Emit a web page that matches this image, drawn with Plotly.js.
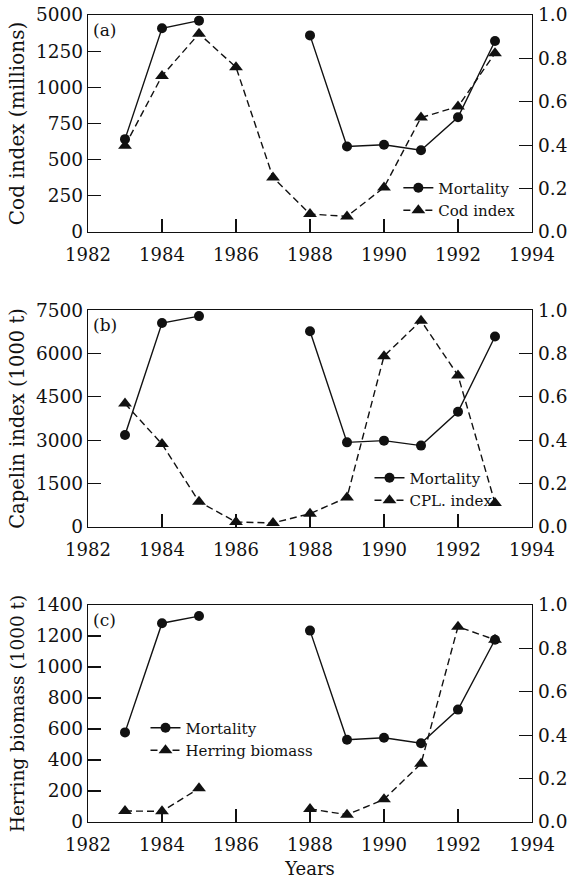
<!DOCTYPE html>
<html>
<head>
<meta charset="utf-8">
<script src="https://cdn.plot.ly/plotly-3.0.1.min.js"></script>
<style>html,body{margin:0;padding:0;background:#fff;}#chart{width:569px;height:883px;}</style>
</head>
<body>
<div id="chart"></div>
<script>
// ---- data ----
const years = [1983,1984,1985,1986,1987,1988,1989,1990,1991,1992,1993];

// Panel (a)
const mortalityA = [0.428,0.939,0.974,null,null,0.906,0.394,0.402,0.377,0.529,0.880];
// cod index drawn on a broken axis (top tick labelled 5000 sits at the 1500 position)
const codIndex = [596,1079,1371,1139,377,124,108,308,791,867,1235];
const codTickVals = [0,250,500,750,1000,1250,1500];
const codTickText = ['0','250','500','750','1000','1250','5000'];

// Panel (b)
const mortalityB = [0.424,0.940,0.972,null,null,0.902,0.390,0.398,0.375,0.531,0.878];
const capelinIndex = [4266,2867,872,172,138,459,1021,5906,7133,5241,826];
const capelinTickVals = [0,1500,3000,4500,6000,7500];

// Panel (c)
const mortalityC = [0.413,0.916,0.949,null,null,0.882,0.379,0.388,0.363,0.518,0.840];
const herringBiomass = [71,69,217,null,null,84,47,146,376,1260,1176];
const herringTickVals = [0,200,400,600,800,1000,1200,1400];

const xTickVals = [1982,1984,1986,1988,1990,1992,1994];
const rightTickVals = [0,0.2,0.4,0.6,0.8,1.0];

// ---- styling ----
const FONT = 'DejaVu Serif, Liberation Serif, serif';
const INK = '#111';

function circTrace(y, xa, ya, leg) {
  return {x: years, y: y, xaxis: xa, yaxis: ya, name: 'Mortality', legend: leg,
    mode: 'lines+markers', connectgaps: false, cliponaxis: false,
    line: {color: INK, width: 1.4},
    marker: {symbol: 'circle', size: 10, color: INK}};
}
function triTrace(y, xa, ya, leg, name) {
  return {x: years, y: y, xaxis: xa, yaxis: ya, name: name, legend: leg,
    mode: 'lines+markers', connectgaps: false, cliponaxis: false,
    line: {color: INK, width: 1.4, dash: '7px,4px'},
    marker: {symbol: 'triangle-up', size: 12, color: INK}};
}

const data = [
  circTrace(mortalityA, 'x', 'y2', 'legend'),
  triTrace(codIndex, 'x', 'y', 'legend', 'Cod index'),
  circTrace(mortalityB, 'x2', 'y4', 'legend2'),
  triTrace(capelinIndex, 'x2', 'y3', 'legend2', 'CPL. index'),
  circTrace(mortalityC, 'x3', 'y6', 'legend3'),
  triTrace(herringBiomass, 'x3', 'y5', 'legend3', 'Herring biomass')
];

function xAx(anchor, title) {
  const a = {anchor: anchor, domain: [0,1], range: [1982,1994], tickvals: xTickVals,
    ticks: 'inside', ticklen: 13, tickwidth: 1.2, tickcolor: INK,
    showline: true, linecolor: INK, linewidth: 1.3, mirror: true,
    showgrid: false, zeroline: false, ticklabelstandoff: 6,
    tickfont: {family: FONT, size: 18, color: INK}};
  if (title) a.title = {text: title, font: {family: FONT, size: 18, color: INK}, standoff: 8};
  return a;
}
function yLeft(anchor, domain, range, tv, tt, title, tsize) {
  const a = {anchor: anchor, domain: domain, range: range, tickvals: tv,
    ticks: 'inside', ticklen: 13, tickwidth: 1.2, tickcolor: INK,
    showline: true, linecolor: INK, linewidth: 1.3, mirror: true,
    showgrid: false, zeroline: false,
    tickfont: {family: FONT, size: 18.5, color: INK},
    title: {text: title, font: {family: FONT, size: tsize, color: INK}, standoff: 6}};
  if (tt) a.ticktext = tt;
  return a;
}
function yRight(anchor, overlay, domain) {
  return {anchor: anchor, overlaying: overlay, side: 'right', domain: domain, range: [0,1], tickvals: rightTickVals,
    tickformat: '.1f', ticks: 'inside', ticklen: 13, tickwidth: 1.2, tickcolor: INK,
    showline: false, showgrid: false, zeroline: false, ticklabelstandoff: 5,
    tickfont: {family: FONT, size: 18.5, color: INK}};
}

const domA = [0.7311, 1.0], domB = [0.3656, 0.6344], domC = [0, 0.2689];

function legendAt(x, y) {
  return {x: x, y: y, xanchor: 'left', yanchor: 'top', xref: 'paper', yref: 'paper',
    bgcolor: 'rgba(0,0,0,0)', borderwidth: 0, itemwidth: 30, tracegroupgap: 0,
    font: {family: FONT, size: 15, color: INK}};
}
function panelLabel(text, xr, yr) {
  return {text: text, xref: xr, yref: yr, x: 0.006, y: 0.93, xanchor: 'left', yanchor: 'middle',
    showarrow: false, font: {family: FONT, size: 17, color: INK}};
}

const layout = {
  width: 569, height: 883,
  margin: {l: 88, r: 37, t: 15, b: 61},
  paper_bgcolor: '#fff', plot_bgcolor: '#fff',
  showlegend: true,
  xaxis: xAx('y'),
  xaxis2: xAx('y3'),
  xaxis3: xAx('y5', 'Years'),
  yaxis: yLeft('x', domA, [0,1500], codTickVals, codTickText, 'Cod index (millions)', 20),
  yaxis2: yRight('x', 'y', domA),
  yaxis3: yLeft('x2', domB, [0,7500], capelinTickVals, null, 'Capelin index (1000 t)', 19.5),
  yaxis4: yRight('x2', 'y3', domB),
  yaxis5: yLeft('x3', domC, [0,1400], herringTickVals, null, 'Herring biomass (1000 t)', 18.5),
  yaxis6: yRight('x3', 'y5', domC),
  legend: legendAt(0.699, 0.806),
  legend2: legendAt(0.634, 0.4468),
  legend3: legendAt(0.1295, 0.137),
  annotations: [
    panelLabel('(a)', 'x domain', 'y domain'),
    panelLabel('(b)', 'x2 domain', 'y3 domain'),
    panelLabel('(c)', 'x3 domain', 'y5 domain')
  ]
};

Plotly.newPlot('chart', data, layout, {displayModeBar: false, staticPlot: true});
</script>
</body>
</html>
